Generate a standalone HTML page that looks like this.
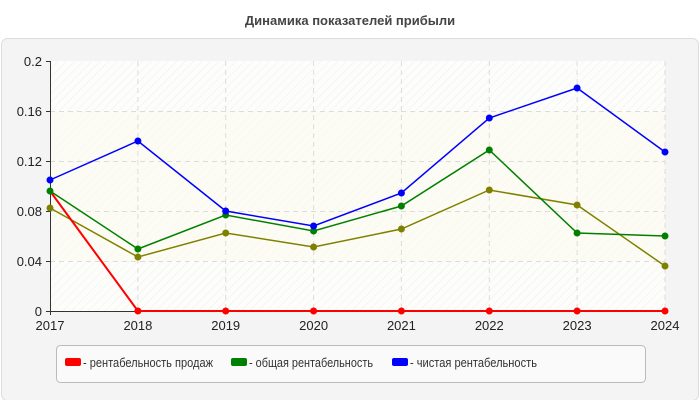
<!DOCTYPE html>
<html><head><meta charset="utf-8"><style>
body{margin:0;background:#fff;}
svg{display:block;font-family:"Liberation Sans",sans-serif;}
</style></head><body>
<svg width="700" height="400" xmlns="http://www.w3.org/2000/svg">
<defs>
<pattern id="h" width="6" height="6" patternUnits="userSpaceOnUse" patternTransform="rotate(45)">
<rect width="6" height="6" fill="#fdfdfb"/><line x1="0" y1="0" x2="0" y2="6" stroke="#eeeeea" stroke-width="1"/>
</pattern>
</defs>
<text x="350" y="25" text-anchor="middle" font-size="13" font-weight="bold" fill="#444">Динамика показателей прибыли</text>
<rect x="1.5" y="38.5" width="697" height="362" rx="6" fill="#f4f4f4" stroke="#dddddd"/>
<rect x="50" y="61" width="615" height="250" fill="url(#h)"/>
<rect x="50" y="111" width="615" height="150" fill="#fcfcf0" opacity="0.6"/>
<g stroke="#dcdcdc" stroke-dasharray="5,4" stroke-width="1">
<line x1="50" y1="111.5" x2="665" y2="111.5"/><line x1="50" y1="161.5" x2="665" y2="161.5"/>
<line x1="50" y1="211.5" x2="665" y2="211.5"/><line x1="50" y1="261.5" x2="665" y2="261.5"/>
<line x1="137.9" y1="61" x2="137.9" y2="311"/><line x1="225.7" y1="61" x2="225.7" y2="311"/>
<line x1="313.6" y1="61" x2="313.6" y2="311"/><line x1="401.4" y1="61" x2="401.4" y2="311"/>
<line x1="489.3" y1="61" x2="489.3" y2="311"/><line x1="577.1" y1="61" x2="577.1" y2="311"/>
<line x1="665" y1="61" x2="665" y2="311"/>
</g>
<g stroke="#333" stroke-width="1">
<line x1="50.5" y1="61" x2="50.5" y2="315"/><line x1="46" y1="311.5" x2="665" y2="311.5"/>
<line x1="46" y1="61.5" x2="50" y2="61.5"/><line x1="46" y1="111.5" x2="50" y2="111.5"/>
<line x1="46" y1="161.5" x2="50" y2="161.5"/><line x1="46" y1="211.5" x2="50" y2="211.5"/>
<line x1="46" y1="261.5" x2="50" y2="261.5"/>
</g>
<g font-size="13" fill="#222" text-anchor="end">
<text x="42" y="66">0.2</text><text x="42" y="116">0.16</text><text x="42" y="166">0.12</text>
<text x="42" y="216">0.08</text><text x="42" y="266">0.04</text><text x="42" y="316">0</text>
</g>
<g font-size="13" fill="#222" text-anchor="middle">
<text x="50" y="330">2017</text><text x="137.9" y="330">2018</text><text x="225.7" y="330">2019</text>
<text x="313.6" y="330">2020</text><text x="401.4" y="330">2021</text><text x="489.3" y="330">2022</text>
<text x="577.1" y="330">2023</text><text x="665" y="330">2024</text>
</g>
<g fill="none" stroke-width="1.5">
<polyline stroke="#808000" points="50,208 137.9,257 225.7,233 313.6,247 401.4,229 489.3,190 577.1,205 665,266"/>
<polyline stroke="#008000" points="50,191 137.9,249 225.7,215 313.6,231 401.4,206 489.3,150 577.1,233 665,236"/>
<polyline stroke="#0000ff" points="50,180 137.9,141 225.7,211 313.6,226 401.4,193 489.3,118 577.1,88 665,152"/>
<polyline stroke="#ff0000" stroke-width="2" points="50,191 137.9,311 225.7,311 313.6,311 401.4,311 489.3,311 577.1,311 665,311"/>
</g>
<g fill="#808000"><circle cx="50" cy="208" r="3.5"/><circle cx="137.9" cy="257" r="3.5"/><circle cx="225.7" cy="233" r="3.5"/><circle cx="313.6" cy="247" r="3.5"/><circle cx="401.4" cy="229" r="3.5"/><circle cx="489.3" cy="190" r="3.5"/><circle cx="577.1" cy="205" r="3.5"/><circle cx="665" cy="266" r="3.5"/></g>
<g fill="#008000"><circle cx="50" cy="191" r="3.5"/><circle cx="137.9" cy="249" r="3.5"/><circle cx="225.7" cy="215" r="3.5"/><circle cx="313.6" cy="231" r="3.5"/><circle cx="401.4" cy="206" r="3.5"/><circle cx="489.3" cy="150" r="3.5"/><circle cx="577.1" cy="233" r="3.5"/><circle cx="665" cy="236" r="3.5"/></g>
<g fill="#0000ff"><circle cx="50" cy="180" r="3.5"/><circle cx="137.9" cy="141" r="3.5"/><circle cx="225.7" cy="211" r="3.5"/><circle cx="313.6" cy="226" r="3.5"/><circle cx="401.4" cy="193" r="3.5"/><circle cx="489.3" cy="118" r="3.5"/><circle cx="577.1" cy="88" r="3.5"/><circle cx="665" cy="152" r="3.5"/></g>
<g fill="#ff0000"><circle cx="137.9" cy="311" r="3.5"/><circle cx="225.7" cy="311" r="3.5"/><circle cx="313.6" cy="311" r="3.5"/><circle cx="401.4" cy="311" r="3.5"/><circle cx="489.3" cy="311" r="3.5"/><circle cx="577.1" cy="311" r="3.5"/><circle cx="665" cy="311" r="3.5"/></g>
<rect x="56.5" y="345.5" width="589" height="37" rx="4" fill="#fafafa" stroke="#bbbbbb"/>
<g font-size="12.5" fill="#333">
<rect x="65" y="358" width="16" height="8" rx="2" fill="#ff0000"/><text x="83" y="367" textLength="130" lengthAdjust="spacingAndGlyphs">- рентабельность продаж</text>
<rect x="231" y="358" width="16" height="8" rx="2" fill="#008000"/><text x="249" y="367" textLength="124" lengthAdjust="spacingAndGlyphs">- общая рентабельность</text>
<rect x="392" y="358" width="16" height="8" rx="2" fill="#0000ff"/><text x="410" y="367" textLength="127" lengthAdjust="spacingAndGlyphs">- чистая рентабельность</text>
</g>
</svg>
</body></html>
